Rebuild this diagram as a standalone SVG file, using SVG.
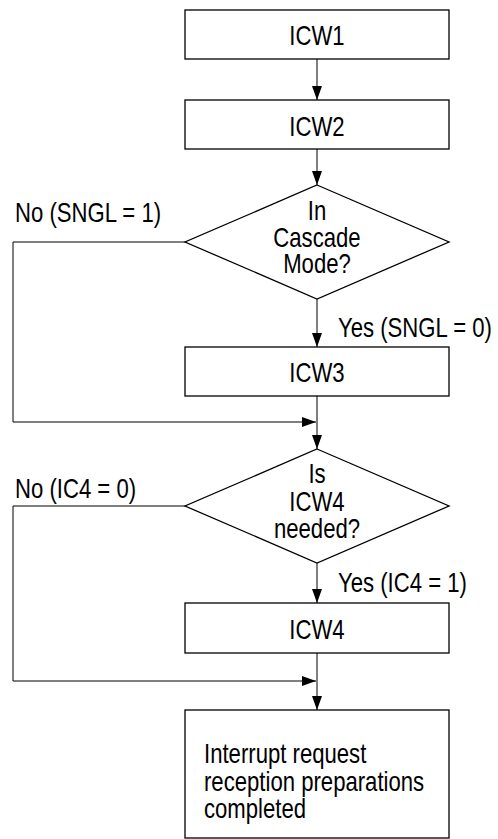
<svg xmlns="http://www.w3.org/2000/svg" width="498" height="839" viewBox="0 0 498 839">
<style>
.box{fill:#fff;stroke:#000;stroke-width:1.3}
.ln{fill:none;stroke:#000;stroke-width:1}
text{font-family:"Liberation Sans",Arial,sans-serif;font-size:27px;fill:#000}
.c{text-anchor:middle}
</style>
<defs>
<marker id="ah" markerWidth="14" markerHeight="10" refX="14" refY="5" orient="auto" markerUnits="userSpaceOnUse">
<path d="M0,0 L14,5 L0,10 Z" fill="#000"/>
</marker>
</defs>
<rect width="498" height="839" fill="#fff"/>
<g id="connectors">
<line class="ln" x1="317" y1="59" x2="317" y2="100" marker-end="url(#ah)"/>
<line class="ln" x1="317" y1="149" x2="317" y2="185" marker-end="url(#ah)"/>
<line class="ln" x1="317" y1="299" x2="317" y2="347" marker-end="url(#ah)"/>
<polyline class="ln" points="185,242 13,242 13,422 316,422" marker-end="url(#ah)"/>
<line class="ln" x1="317" y1="396" x2="317" y2="449" marker-end="url(#ah)"/>
<polyline class="ln" points="185,506 13,506 13,681 316,681" marker-end="url(#ah)"/>
<line class="ln" x1="317" y1="563" x2="317" y2="603" marker-end="url(#ah)"/>
<line class="ln" x1="317" y1="653" x2="317" y2="710" marker-end="url(#ah)"/>
<text transform="translate(15,222) scale(0.82,1)">No (SNGL = 1)</text>
<text transform="translate(338,337) scale(0.82,1)">Yes (SNGL = 0)</text>
<text transform="translate(15,498) scale(0.82,1)">No (IC4 = 0)</text>
<text transform="translate(338,592) scale(0.82,1)">Yes (IC4 = 1)</text>
</g>
<g id="icw1">
<rect class="box" x="185" y="10" width="264" height="49"/>
<text class="c" transform="translate(317,45) scale(0.82,1)">ICW1</text>
</g>
<g id="icw2">
<rect class="box" x="185" y="100" width="264" height="49"/>
<text class="c" transform="translate(317,136) scale(0.82,1)">ICW2</text>
</g>
<g id="cascade">
<polygon class="box" points="317,185 449,242 317,299 185,242"/>
<text class="c" transform="translate(317,220) scale(0.82,1)">In</text>
<text class="c" transform="translate(317,247) scale(0.82,1)">Cascade</text>
<text class="c" transform="translate(317,273) scale(0.82,1)">Mode?</text>
</g>
<g id="icw3">
<rect class="box" x="185" y="347" width="264" height="49"/>
<text class="c" transform="translate(317,382) scale(0.82,1)">ICW3</text>
</g>
<g id="icw4needed">
<polygon class="box" points="317,449 449,506 317,563 185,506"/>
<text class="c" transform="translate(317,483) scale(0.82,1)">Is</text>
<text class="c" transform="translate(317,511) scale(0.82,1)">ICW4</text>
<text class="c" transform="translate(317,538) scale(0.82,1)">needed?</text>
</g>
<g id="icw4">
<rect class="box" x="185" y="603" width="264" height="50"/>
<text class="c" transform="translate(317,639) scale(0.82,1)">ICW4</text>
</g>
<g id="done">
<rect class="box" x="185" y="710" width="264" height="128"/>
<text transform="translate(204,763) scale(0.82,1)">Interrupt request</text>
<text transform="translate(204,791) scale(0.82,1)">reception preparations</text>
<text transform="translate(204,818) scale(0.82,1)">completed</text>
</g>
</svg>
